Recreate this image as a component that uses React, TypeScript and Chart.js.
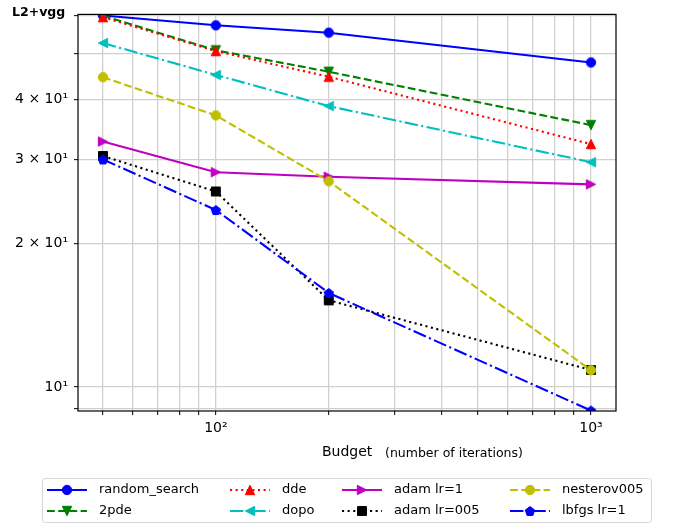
import React, { useEffect, useRef } from 'react';
import { Chart, registerables } from 'chart.js';

Chart.register(...registerables);

// ---- data ----
const budgets = [50, 100, 200, 1000];
const seriesNames = ['random_search', '2pde', 'dde', 'dopo', 'adam lr=1', 'adam lr=005', 'nesterov005', 'lbfgs lr=1'];
const randomSearch = [60.1, 57.3, 55.3, 47.9];
const twoPde = [60.0, 50.8, 45.8, 35.4];
const dde = [59.6, 50.6, 44.7, 32.3];
const dopo = [52.6, 45.1, 38.8, 29.6];
const adamLr1 = [32.7, 28.2, 27.6, 26.6];
const adamLr005 = [30.5, 25.7, 15.2, 10.86];
const nesterov005 = [44.6, 37.1, 27.0, 10.85];
const lbfgsLr1 = [30.0, 23.5, 15.75, 8.93];
const seriesValues = [randomSearch, twoPde, dde, dopo, adamLr1, adamLr005, nesterov005, lbfgsLr1];

const xTicks = [50, 60, 70, 80, 90, 100, 200, 300, 400, 500, 600, 700, 800, 900, 1000];
const xTickLabels: Record<number, string> = { 100: '10²', 1000: '10³' };
const yTicks = [9, 10, 20, 30, 40, 50, 60];
const yTickLabels: Record<number, string> = { 10: '10¹', 20: '2 × 10¹', 30: '3 × 10¹', 40: '4 × 10¹' };

const yTitle = 'L2+vgg';
const xTitleMain = 'Budget';
const xTitleSub = '(number of iterations)';

// ---- styles ----
const colors = ['#0000ff', '#008000', '#ff0000', '#00bfbf', '#bf00bf', '#000000', '#bfbf00', '#0000ff'];
const DASHED = [7.8, 3.4];
const DOTTED = [2.1, 3.5];
const DASHDOT = [13.4, 3.4, 2.1, 3.4];
const dashes: number[][] = [[], DASHED, DOTTED, DASHDOT, [], DOTTED, DASHED, DASHDOT];
const markers = ['circle', 'tri_down', 'tri_up', 'tri_left', 'tri_right', 'square', 'circle', 'pentagon'];
const FONT = '"DejaVu Sans", Verdana, sans-serif';

function makeMarker(shape: string, color: string, size: number): HTMLCanvasElement {
  const dim = 14;
  const c = document.createElement('canvas');
  c.width = dim;
  c.height = dim;
  const ctx = c.getContext('2d')!;
  const cx = dim / 2;
  const cy = dim / 2;
  const r = size / 2;
  ctx.beginPath();
  switch (shape) {
    case 'circle':
      ctx.arc(cx, cy, r, 0, Math.PI * 2);
      break;
    case 'square':
      ctx.rect(cx - r * 0.95, cy - r * 0.95, r * 1.9, r * 1.9);
      break;
    case 'tri_up':
      ctx.moveTo(cx, cy - r);
      ctx.lineTo(cx - r, cy + r);
      ctx.lineTo(cx + r, cy + r);
      break;
    case 'tri_down':
      ctx.moveTo(cx, cy + r);
      ctx.lineTo(cx - r, cy - r);
      ctx.lineTo(cx + r, cy - r);
      break;
    case 'tri_left':
      ctx.moveTo(cx - r, cy);
      ctx.lineTo(cx + r, cy - r);
      ctx.lineTo(cx + r, cy + r);
      break;
    case 'tri_right':
      ctx.moveTo(cx + r, cy);
      ctx.lineTo(cx - r, cy - r);
      ctx.lineTo(cx - r, cy + r);
      break;
    case 'pentagon':
      for (let k = 0; k < 5; k++) {
        const a = -Math.PI / 2 + (k * 2 * Math.PI) / 5;
        const px = cx + r * 1.05 * Math.cos(a);
        const py = cy + 0.5 + r * 1.05 * Math.sin(a);
        if (k === 0) ctx.moveTo(px, py);
        else ctx.lineTo(px, py);
      }
      break;
  }
  ctx.closePath();
  ctx.fillStyle = color;
  ctx.fill();
  ctx.strokeStyle = color;
  ctx.lineWidth = 1;
  ctx.stroke();
  return c;
}

export default function App() {
  const ref = useRef<HTMLCanvasElement | null>(null);

  useEffect(() => {
    document.body.style.margin = '0';
    const canvas = ref.current!;
    const markerImgs = markers.map((m, i) => makeMarker(m, colors[i], 9.4));

    const datasets = seriesNames.map((name, i) => ({
      label: name,
      data: budgets.map((b, j) => ({ x: b, y: seriesValues[i][j] })),
      borderColor: colors[i],
      backgroundColor: colors[i],
      borderWidth: 2.1,
      borderDash: dashes[i],
      borderCapStyle: 'butt' as const,
      pointStyle: markerImgs[i],
      pointRadius: 5,
      tension: 0,
      fill: false,
      clip: 0,
      order: seriesNames.length - i,
    }));

    const extras = {
      id: 'extras',
      beforeDraw(chart: any) {
        const ctx = chart.ctx;
        ctx.save();
        ctx.fillStyle = '#ffffff';
        ctx.fillRect(0, 0, chart.width, chart.height);
        ctx.restore();
      },
      afterDatasetsDraw(chart: any) {
        const { ctx, chartArea: a } = chart;
        ctx.save();
        ctx.strokeStyle = '#000';
        ctx.lineWidth = 1.2;
        ctx.strokeRect(a.left, a.top, a.right - a.left, a.bottom - a.top);
        ctx.restore();
      },
      afterDraw(chart: any) {
        const ctx = chart.ctx;
        ctx.save();
        // y title
        ctx.fillStyle = '#000';
        ctx.font = `bold 12.5px ${FONT}`;
        ctx.textBaseline = 'alphabetic';
        ctx.textAlign = 'left';
        ctx.fillText(yTitle, 12, 16);
        // x title
        ctx.font = `14px ${FONT}`;
        ctx.fillText(xTitleMain, 322, 456);
        ctx.font = `12.5px ${FONT}`;
        ctx.fillText(xTitleSub, 385, 457);

        // legend box
        const bx = 42.5, by = 478.5, bw = 609, bh = 44, rr = 3;
        ctx.beginPath();
        ctx.moveTo(bx + rr, by);
        ctx.lineTo(bx + bw - rr, by);
        ctx.arcTo(bx + bw, by, bx + bw, by + rr, rr);
        ctx.lineTo(bx + bw, by + bh - rr);
        ctx.arcTo(bx + bw, by + bh, bx + bw - rr, by + bh, rr);
        ctx.lineTo(bx + rr, by + bh);
        ctx.arcTo(bx, by + bh, bx, by + bh - rr, rr);
        ctx.lineTo(bx, by + rr);
        ctx.arcTo(bx, by, bx + rr, by, rr);
        ctx.closePath();
        ctx.fillStyle = 'rgba(255,255,255,0.8)';
        ctx.fill();
        ctx.strokeStyle = '#d6d6d6';
        ctx.lineWidth = 1;
        ctx.stroke();

        const textX = [99, 282, 394, 562];
        const rowY = [490, 511];
        seriesNames.forEach((name, i) => {
          const col = Math.floor(i / 2);
          const row = i % 2;
          const tx = textX[col];
          const y = rowY[row];
          const x0 = tx - 52;
          const x1 = tx - 12;
          ctx.save();
          ctx.strokeStyle = colors[i];
          ctx.lineWidth = 2.1;
          ctx.lineCap = 'butt';
          ctx.setLineDash(dashes[i]);
          ctx.beginPath();
          ctx.moveTo(x0, y);
          ctx.lineTo(x1, y);
          ctx.stroke();
          ctx.restore();
          const img = markerImgs[i];
          ctx.drawImage(img, (x0 + x1) / 2 - img.width / 2, y - img.height / 2);
          ctx.fillStyle = '#000';
          ctx.font = `13px ${FONT}`;
          ctx.textBaseline = 'middle';
          ctx.textAlign = 'left';
          ctx.fillText(name, tx, y);
        });
        ctx.restore();
      },
    };

    const chart = new Chart(canvas, {
      type: 'line',
      data: { datasets },
      options: {
        animation: false,
        responsive: false,
        maintainAspectRatio: false,
        events: [],
        layout: { padding: { left: 0, top: 12, right: 57, bottom: 0 } },
        plugins: { legend: { display: false }, tooltip: { enabled: false }, title: { display: false } },
        scales: {
          x: {
            type: 'logarithmic',
            min: 42.9,
            max: 1166,
            afterBuildTicks: (scale: any) => {
              scale.ticks = xTicks.map((v) => ({ value: v }));
            },
            afterFit: (scale: any) => {
              scale.height = 114;
            },
            grid: { color: '#d0d0d0', lineWidth: 1.3, tickColor: '#000', tickLength: 4, tickWidth: 1, drawTicks: true },
            border: { display: false },
            ticks: {
              autoSkip: false,
              maxRotation: 0,
              padding: 5,
              color: '#000',
              font: { family: FONT, size: 14 },
              callback: (v: any) => xTickLabels[Number(v)] ?? '',
            },
          },
          y: {
            type: 'logarithmic',
            min: 8.91,
            max: 60.4,
            afterBuildTicks: (scale: any) => {
              scale.ticks = yTicks.map((v) => ({ value: v }));
            },
            afterFit: (scale: any) => {
              scale.width = 78;
            },
            grid: { color: '#d0d0d0', lineWidth: 1.3, tickColor: '#000', tickLength: 4, tickWidth: 1, drawTicks: true },
            border: { display: false },
            ticks: {
              autoSkip: false,
              padding: 6,
              color: '#000',
              font: { family: FONT, size: 14 },
              callback: (v: any) => yTickLabels[Number(v)] ?? '',
            },
          },
        },
      },
      plugins: [extras],
    } as any);

    return () => chart.destroy();
  }, []);

  return <canvas ref={ref} width={673} height={525} style={{ display: 'block' }} />;
}
